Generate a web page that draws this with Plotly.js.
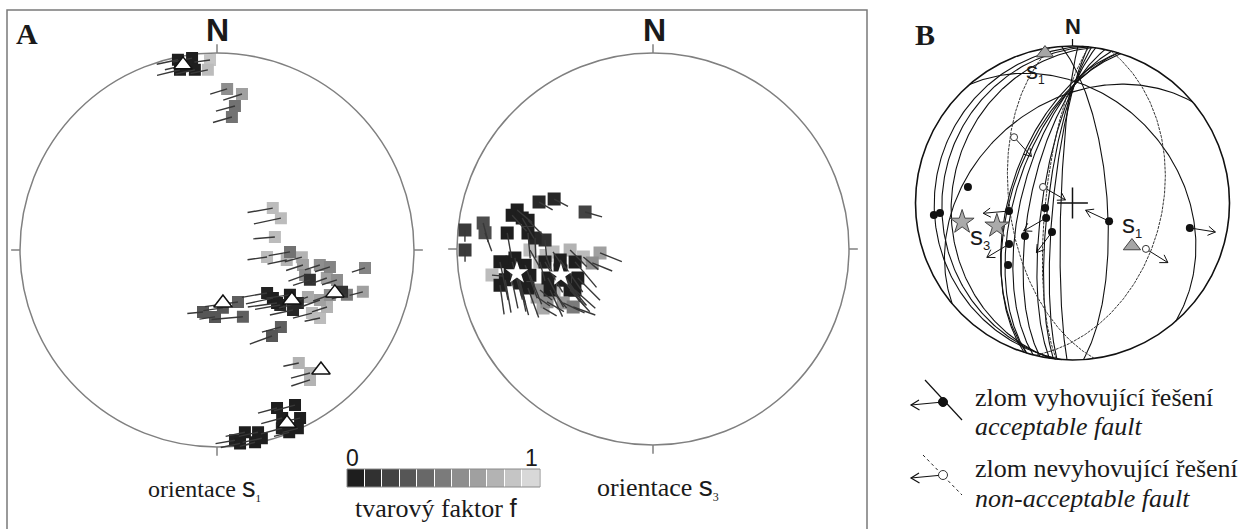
<!DOCTYPE html>
<html><head><meta charset="utf-8">
<script src="https://cdn.plot.ly/plotly-3.0.1.min.js"></script>
<style>html,body{margin:0;padding:0;background:#fff}#chart{width:1257px;height:529px}</style>
</head><body><div id="chart"></div>
<script>
// ---------- Panel A, left: orientation of s1 (trend / plunge, shape factor f, tail azimuth / length) ----------
const s1Trend   = [348.4,352.6,348.4,353,350.5,357.9,357.1, 3.6,9.1,7.1,6.4, 53.1,63.5,77.3,98,91.5,98.2,94.8,99.9,105.9,98.3,98.5,96.9,107.8,104.3,104,108.5,109,106,117.3,115.9,117.4,123.6,123.4,111.7, 130.6,130.7,131,121.6,128.3,131.4,123.2, 192.7,181.7,158,158.8,174.2, 140.3,147.4, 144.1,142.9,144.4, 159.2,153.3,153.7,160,155.6,158.4,158.8,171.3,167.3,173.2,168.8,174.6,166.6];
const s1Plunge  = [1.6,2,7.3,8.7,5.3,3.9,9.3, 19.2,20.9,27.2,32.6, 61,60.3,65.4,69.1,59.6,60.7,54.4,53.5,51.6,46.2,41.6,25.3,49,42,37.3,33.5,30.9,24,46.9,41.5,37.2,41.7,37.4,38.3, 62.6,59.3,55,54.2,49.3,56.6,49.4, 63.6,62.2,66.8,60.2,65.9, 47.9,47, 29.9,22.8,20, 15.3,12.9,5.4,4.2,0.7,0.5,9.4,7.1,5.8,1.3,0.6,3.4,2];
const s1F       = [0,0,0,0,0,0.9,0.85, 0.6,0.7,0.45,0.45, 0.85,0.85,0.85,0.85,0.45,0.8,0.8,0.7,0.6,0.6,0.55,0.55,0.1,0.7,0.6,0.1,0.5,0.7,0.75,0.7,0.8,0.85,0.85,0.6, 0.02,0,0.05,0,0.05,0,0.05, 0.3,0.3,0.35,0.35,0.3, 0.35,0.3, 0.8,0.8,0.8, 0,0,0,0.02,0,0,0,0,0,0,0,0.02,0];
const s1TailAz  = [258,258,256,258,257,262,258, 253,252,255,254, 260,258,265,262,260,258,255,252,250,252,252,252,252,250,252,250,255,255,250,250,252,255,258,250, 260,258,260,262,258,262,255, 265,262,262,265,262, 255,250, 258,255,252, 255,255,258,255,255,255,255,258,258,258,255,260,258];
const s1TailLen = [0.11,0.1,0.12,0.1,0.11,0.08,0.09, 0.09,0.1,0.1,0.1, 0.13,0.14,0.11,0.1,0.11,0.1,0.09,0.09,0.09,0.08,0.08,0.07,0.09,0.08,0.08,0.08,0.08,0.07,0.1,0.1,0.08,0.1,0.08,0.09, 0.13,0.14,0.13,0.12,0.12,0.15,0.1, 0.08,0.08,0.17,0.16,0.1, 0.1,0.12, 0.08,0.1,0.1, 0.1,0.11,0.1,0.11,0.08,0.08,0.11,0.1,0.1,0.1,0.08,0.1,0.1];
const s1MeanTrend  = [349.6,173.6,123.7,110,139.1,158];
const s1MeanPlunge = [5,67.9,52.3,36.5,20.5,5.8];

// ---------- Panel A, right: orientation of s3 ----------
const s3Trend   = [296.8,292.4,298.6,286,283.5,283,278.7,275.8,275.5,276.3,269.7,277.3,283.3,275.3,274.8, 265.2,264.8,262.8,258.2,255.7,258,260.9,256.7,252.7,266.3,261.2,257.4, 263.2,263.3,260.6,254.6,250.6,248.9,248.3,243.7,257.3,242.3,256.6,251, 269.5,268.3,260.8,269.3,265.8,257.1,263.4,250.1,243.5,247.5,239,234,241.8,263.5,266.5,246];
const s3Plunge  = [42.9,37.2,57.6,28.7,27,34.9,13.4,4,15,26.1,4.6,35.9,32,39.4,44, 22.7,28.7,34.6,24,30.6,36,27.1,20.9,33.6,30.1,30.5,30.6, 43.8,50.6,56.9,43.7,50.7,56.2,42.9,51,49.8,52.9,50.1,49.8, 37.3,47.7,17.9,55.2,67.9,64,60.7,38.6,39.4,36.2,45.6,48.3,36.5,41.5,44.5,44];
const s3F       = [0.05,0.05,0.2,0,0,0,0.25,0.15,0.25,0,0.15,0,0,0.05,0.1, 0,0,0,0,0,0,0,0,0,0,0,0, 0,0,0,0,0,0,0,0,0,0,0,0, 0.85,0.85,0.85,0.8,0.7,0.6,0.85,0.6,0.6,0.7,0.65,0.5,0.75,0.85,0.85,0.8];
const s3TailAz  = [118,120,106,130,138,135,165,180,160,170,180,175,150,178,175, 168,165,160,170,165,158,168,172,160,170,166,168, 150,145,140,152,140,135,155,138,148,132,145,140, 150,145,95,135,112,112,130,130,120,125,115,110,120,165,160,140];
const s3TailLen = [0.08,0.08,0.09,0.1,0.11,0.11,0.1,0.06,0.1,0.13,0.06,0.13,0.12,0.1,0.1, 0.2,0.2,0.18,0.17,0.17,0.16,0.19,0.15,0.16,0.2,0.18,0.17, 0.18,0.2,0.17,0.17,0.17,0.16,0.15,0.15,0.19,0.14,0.18,0.17, 0.1,0.1,0.06,0.12,0.12,0.11,0.1,0.08,0.1,0.08,0.12,0.12,0.08,0.1,0.12,0.1];
const s3MeanTrend  = [260,254.2];
const s3MeanPlunge = [30.2,49.6];

// ---------- colour scale of the shape factor ----------
const fSteps    = [0,0.1,0.2,0.3,0.4,0.5,0.6,0.7,0.8,0.9,1];
const fTickText = ['0','1'];

// ---------- Panel B: fault planes (dip direction / dip), acceptable = 1 ----------
const faultDipDir = [288,287,287,284.5,282,278.5,277,275.7,272, 86,104,49,320, 274,276,278, 262,276];
const faultDip    = [58,57,60,63.4,68.2,74.4,77.4,80,84, 72,42.5,33,37, 13,18,24, 57,76];
const faultOK     = [1,1,1,1,1,1,1,1,1, 1,0,1,1, 1,1,1, 0,0];
// striae (trend / plunge), acceptable flag, slip arrow azimuth (null = no arrow)
const striaTrend  = [278.7,265.1,265.7,262.8,259.6,240.4,235.3,215.3,237.1,226.1,116.4,102, 318.4,298.5,122];
const striaPlunge = [33.1,12.4,16.5,56.5,75.6,74.3,59.8,71.6,50.2,42.5,68.8,24.6, 43.3,72.6,44.1];
const striaOK     = [1,1,1,1,1,1,1,1,1,1,1,1, 0,0,0];
const slipAz      = [null,null,null,265,null,240,null,217,239,null,295,99, 138,120,122];
const bS1Trend = [349.6,125.9], bS1Plunge = [3.3,51.4];
const bS3Trend = [260.2,253.1], bS3Plunge = [29.4,48.3];
const centreTrend = [0], centrePlunge = [90];
const cardinal = [0,90,180,270];

// ---------- helpers ----------
const W = 1257, H = 529, D = Math.PI/180;
function proj(t, p){ const r = Math.SQRT2*Math.sin((90-p)/2*D); return [r*Math.sin(t*D), r*Math.cos(t*D)]; }
const px = x => x/W, py = y => 1 - y/H;
const nets = {
  a: {cx:217,   cy:250, R:197, s:1.08},
  b: {cx:653,   cy:249, R:196, s:1.08},
  c: {cx:1072.5,cy:203, R:157, s:1.12}
};
function axes(n){
  return [
    {domain:[px(n.cx-n.s*n.R), px(n.cx+n.s*n.R)], range:[-n.s,n.s], visible:false, fixedrange:true},
    {domain:[py(n.cy+n.s*n.R), py(n.cy-n.s*n.R)], range:[-n.s,n.s], visible:false, fixedrange:true}
  ];
}
const grayScale = [[0,'rgb(30,30,30)'],[1,'rgb(216,216,216)']];

function tadpoles(tr,pl,f,taz,tlen,xa,ya,size){
  const idx = tr.map((_,i)=>i).sort((a,b)=>f[b]-f[a]);
  const X=[],Y=[],C=[],TX=[],TY=[];
  idx.forEach(i=>{
    const [x,y] = proj(tr[i],pl[i]);
    X.push(x); Y.push(y); C.push(f[i]);
    TX.push(x, x+tlen[i]*Math.sin(taz[i]*D), null);
    TY.push(y, y+tlen[i]*Math.cos(taz[i]*D), null);
  });
  return [
    {type:'scatter',mode:'markers',x:X,y:Y,xaxis:xa,yaxis:ya,hoverinfo:'skip',
     marker:{symbol:'square',size:size,color:C,colorscale:grayScale,cmin:0,cmax:1,line:{width:0}}},
    {type:'scatter',mode:'lines',x:TX,y:TY,xaxis:xa,yaxis:ya,hoverinfo:'skip',line:{color:'#383838',width:1.4}}
  ];
}
function points(tr,pl){ const X=[],Y=[]; tr.forEach((t,i)=>{const [x,y]=proj(t,pl[i]); X.push(x); Y.push(y);}); return [X,Y]; }
function ticks(list,len){ const X=[],Y=[]; list.forEach(a=>{X.push(Math.sin(a*D),(1+len)*Math.sin(a*D),null); Y.push(Math.cos(a*D),(1+len)*Math.cos(a*D),null);}); return [X,Y]; }
function greatCircle(dd,dip){
  const s=dd-90, sv=[Math.sin(s*D),Math.cos(s*D),0];
  const dv=[Math.cos(dip*D)*Math.sin(dd*D),Math.cos(dip*D)*Math.cos(dd*D),Math.sin(dip*D)];
  const X=[],Y=[];
  for(let l=0;l<=180;l+=1){
    const c=Math.cos(l*D), sn=Math.sin(l*D);
    const v=[c*sv[0]+sn*dv[0], c*sv[1]+sn*dv[1], c*sv[2]+sn*dv[2]];
    const p=Math.asin(Math.max(-1,Math.min(1,v[2])))/D, t=Math.atan2(v[0],v[1])/D;
    const [x,y]=proj(t,p); X.push(x); Y.push(y);
  }
  return [X,Y];
}

const traces = [];
// ----- net A left
traces.push(...tadpoles(s1Trend,s1Plunge,s1F,s1TailAz,s1TailLen,'x','y',12));
{ const [X,Y]=points(s1MeanTrend,s1MeanPlunge);
  traces.push({type:'scatter',mode:'markers',x:X,y:Y,xaxis:'x',yaxis:'y',hoverinfo:'skip',
    marker:{symbol:'triangle-up',size:16,color:'#ffffff',line:{color:'#111',width:1.5}}}); }
{ const [X,Y]=ticks(cardinal,0.045);
  traces.push({type:'scatter',mode:'lines',x:X,y:Y,xaxis:'x',yaxis:'y',hoverinfo:'skip',line:{color:'#808080',width:1.5}}); }
// ----- net A right
traces.push(...tadpoles(s3Trend,s3Plunge,s3F,s3TailAz,s3TailLen,'x2','y2',13));
{ const [X,Y]=points(s3MeanTrend,s3MeanPlunge);
  traces.push({type:'scatter',mode:'markers',x:X,y:Y,xaxis:'x2',yaxis:'y2',hoverinfo:'skip',
    marker:{symbol:'star',size:17,color:'#ffffff',line:{width:0}}}); }
{ const [X,Y]=ticks(cardinal,0.045);
  traces.push({type:'scatter',mode:'lines',x:X,y:Y,xaxis:'x2',yaxis:'y2',hoverinfo:'skip',line:{color:'#808080',width:1.5}}); }
// ----- net B
{ const A={x:[],y:[]}, N={x:[],y:[]};
  faultDipDir.forEach((dd,i)=>{ const [X,Y]=greatCircle(dd,faultDip[i]); const T=faultOK[i]?A:N; T.x.push(...X,null); T.y.push(...Y,null); });
  traces.push({type:'scatter',mode:'lines',x:A.x,y:A.y,xaxis:'x3',yaxis:'y3',hoverinfo:'skip',line:{color:'#111',width:1.1}});
  traces.push({type:'scatter',mode:'lines',x:N.x,y:N.y,xaxis:'x3',yaxis:'y3',hoverinfo:'skip',line:{color:'#333',width:1,dash:'3px,1px'}});
  const [TX,TY]=ticks([0],0.045);
  traces.push({type:'scatter',mode:'lines',x:TX,y:TY,xaxis:'x3',yaxis:'y3',hoverinfo:'skip',line:{color:'#111',width:1.2}});
  // slip arrows
  const AL=0.165, BL=0.055, BA=32, ax=[], ay=[];
  striaTrend.forEach((t,i)=>{
    if(slipAz[i]===null) return;
    const [x,y]=proj(t,striaPlunge[i]), a=slipAz[i];
    const tx=x+AL*Math.sin(a*D), ty=y+AL*Math.cos(a*D);
    ax.push(x,tx,null); ay.push(y,ty,null);
    ax.push(tx+BL*Math.sin((a+180-BA)*D), tx, tx+BL*Math.sin((a+180+BA)*D), null);
    ay.push(ty+BL*Math.cos((a+180-BA)*D), ty, ty+BL*Math.cos((a+180+BA)*D), null);
  });
  traces.push({type:'scatter',mode:'lines',x:ax,y:ay,xaxis:'x3',yaxis:'y3',hoverinfo:'skip',line:{color:'#111',width:1}});
  const ok=[[],[]], bad=[[],[]];
  striaTrend.forEach((t,i)=>{const [x,y]=proj(t,striaPlunge[i]); const T=striaOK[i]?ok:bad; T[0].push(x); T[1].push(y);});
  traces.push({type:'scatter',mode:'markers',x:ok[0],y:ok[1],xaxis:'x3',yaxis:'y3',hoverinfo:'skip',marker:{size:8,color:'#111',line:{width:0}}});
  traces.push({type:'scatter',mode:'markers',x:bad[0],y:bad[1],xaxis:'x3',yaxis:'y3',hoverinfo:'skip',marker:{size:7,color:'#fff',line:{color:'#333',width:1}}});
  const [cx,cy]=points(centreTrend,centrePlunge);
  traces.push({type:'scatter',mode:'markers',x:cx,y:cy,xaxis:'x3',yaxis:'y3',hoverinfo:'skip',marker:{symbol:'cross-thin',size:22,line:{color:'#111',width:1.5}}});
  const [s1x,s1y]=points(bS1Trend,bS1Plunge);
  traces.push({type:'scatter',mode:'markers',x:s1x,y:s1y,xaxis:'x3',yaxis:'y3',hoverinfo:'skip',marker:{symbol:'triangle-up',size:15,color:'#a6a6a6',line:{color:'#444',width:1}}});
  const [s3x,s3y]=points(bS3Trend,bS3Plunge);
  traces.push({type:'scatter',mode:'markers',x:s3x,y:s3y,xaxis:'x3',yaxis:'y3',hoverinfo:'skip',marker:{symbol:'star',size:18,color:'#aaaaaa',line:{color:'#444',width:1}}});
}
// ----- colour bar of f
traces.push({type:'heatmap',z:[fSteps],x:fSteps.map((_,i)=>i),y:[0],xaxis:'x4',yaxis:'y4',
  colorscale:grayScale,zmin:0,zmax:1,showscale:false,xgap:1,hoverinfo:'skip'});

const [xa,ya]=axes(nets.a), [xb,yb]=axes(nets.b), [xc,yc]=axes(nets.c);
const serif='Liberation Serif', sans='Liberation Sans';
function ann(text,x,y,size,family,extra){ return Object.assign({text:text,x:px(x),y:py(y),xref:'paper',yref:'paper',showarrow:false,
  xanchor:'center',yanchor:'middle',font:{size:size,family:family,color:'#1a1a1a'}},extra||{}); }
const sS = (c,sub,fs,ss)=>`<span style="font-family:Liberation Sans;font-size:${fs}px">${c}</span><sub><span style="font-size:${ss}px">${sub}</span></sub>`;
const annotations = [
  ann('<b>A</b>',27,33,30,serif),
  ann('<b>B</b>',925,35,30,serif),
  ann('<b>N</b>',217,30,32,sans),
  ann('<b>N</b>',654,30,32,sans),
  ann('<b>N</b>',1073,26,22,sans),
  ann('orientace '+sS('s','1',27,11),204,488,24,serif),
  ann('orientace '+sS('s','3',28,12),658,487,26,serif),
  ann(fTickText[0],352,458,23,sans),
  ann(fTickText[1],531,458,23,sans),
  ann('tvarový faktor <span style="font-family:Liberation Sans">f</span>',436,508,26,serif),
  ann(sS('s','1',24,12),1035,72,22,sans),
  ann(sS('s','1',26,13),1132,225,24,sans),
  ann(sS('s','3',26,13),980,237,24,sans),
  ann('zlom vyhovující řešení',973,397,26,serif,{xanchor:'left'}),
  ann('<i>acceptable fault</i>',973,426,26,serif,{xanchor:'left'}),
  ann('zlom nevyhovující řešení',973,468,26,serif,{xanchor:'left'}),
  ann('<i>non-acceptable fault</i>',973,498,26,serif,{xanchor:'left'})
];
function line(x0,y0,x1,y1,extra){ return Object.assign({type:'line',xref:'paper',yref:'paper',x0:px(x0),y0:py(y0),x1:px(x1),y1:py(y1),line:{color:'#111',width:1.2}},extra||{}); }
function arrowHead(tx,ty){ return {type:'path',xref:'paper',yref:'paper',path:`M ${px(tx+8)},${py(ty-5)} L ${px(tx)},${py(ty)} L ${px(tx+8.5)},${py(ty+5)}`,line:{color:'#111',width:1.2}}; }
const shapes = [
  {type:'rect',xref:'paper',yref:'paper',x0:px(7),x1:px(867),y0:py(10),y1:-0.02,line:{color:'#7a7a7a',width:1.5},layer:'below'},
  {type:'circle',xref:'x',yref:'y',x0:-1,x1:1,y0:-1,y1:1,line:{color:'#808080',width:1.5},layer:'below'},
  {type:'circle',xref:'x2',yref:'y2',x0:-1,x1:1,y0:-1,y1:1,line:{color:'#808080',width:1.5},layer:'below'},
  {type:'circle',xref:'x3',yref:'y3',x0:-1,x1:1,y0:-1,y1:1,line:{color:'#111',width:1.6},layer:'below'},
  {type:'rect',xref:'paper',yref:'paper',x0:px(347),x1:px(540),y0:py(487),y1:py(469),line:{color:'#8a8a8a',width:1}},
  // legend of panel B
  line(925,380,962,420),
  line(943,402,911,405),
  arrowHead(911,405),
  {type:'circle',xref:'paper',yref:'paper',x0:px(938.5),x1:px(947.5),y0:py(406.5),y1:py(397.5),fillcolor:'#111',line:{color:'#111',width:1}},
  line(923,455,962,495,{line:{color:'#222',width:1,dash:'dot'}}),
  line(943,475,911,478),
  arrowHead(911,478),
  {type:'circle',xref:'paper',yref:'paper',x0:px(938.5),x1:px(947.5),y0:py(479.5),y1:py(470.5),fillcolor:'#fff',line:{color:'#333',width:1}}
];
const layout = {
  width:W,height:H,margin:{l:0,r:0,t:0,b:0},paper_bgcolor:'#fff',plot_bgcolor:'rgba(0,0,0,0)',showlegend:false,
  font:{family:serif,size:20,color:'#1a1a1a'},
  xaxis:xa,yaxis:ya,xaxis2:xb,yaxis2:yb,xaxis3:xc,yaxis3:yc,
  xaxis4:{domain:[px(347),px(540)],range:[-0.5,10.5],visible:false,fixedrange:true},
  yaxis4:{domain:[py(487),py(469)],range:[-0.5,0.5],visible:false,fixedrange:true},
  annotations:annotations,shapes:shapes
};
Plotly.newPlot('chart',traces,layout,{staticPlot:true,displayModeBar:false});
</script></body></html>
